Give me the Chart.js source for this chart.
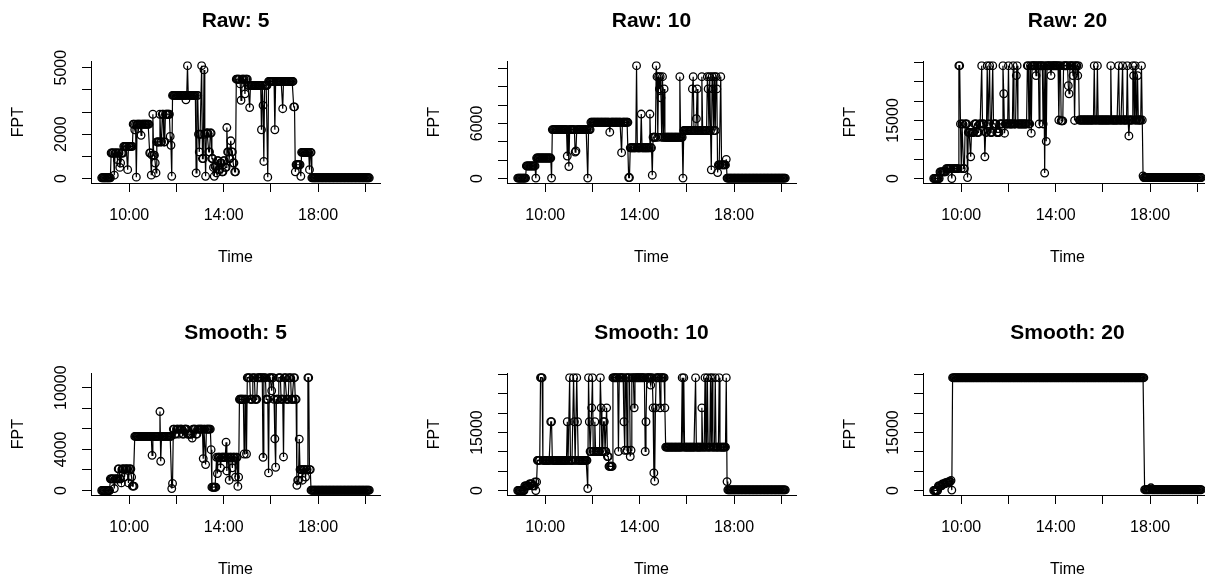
<!DOCTYPE html>
<html>
<head>
<meta charset="utf-8">
<script src="https://cdn.jsdelivr.net/npm/chart.js@4/dist/chart.umd.min.js"></script>
<style>
    html, body { margin: 0; padding: 0; background: #fff; overflow: hidden; }
    #grid { position: relative; width: 1205px; height: 575px; overflow: hidden; }
    .cell { position: absolute; width: 416px; height: 312px; }
</style>
</head>
<body>
<div id="grid"></div>
<script>
// Sampling of the FPT series (minutes between samples)
const startTime = '8:50';
const endTime = '20:10';
const sampleStep = 2;

// Time axis
const xTicks = [600, 720, 840, 960, 1080, 1200];
const xTickLabels = ['10:00', '', '14:00', '', '18:00', ''];

// FPT series as change points [time, value]; each value holds until the next change
const raw5Steps = [
    ['8:50', 30], ['9:14', 1150], ['9:22', 150], ['9:24', 1150], ['9:30', 850], ['9:32', 1150], ['9:36', 500], ['9:38', 700], ['9:40', 1150],
    ['9:46', 1450], ['9:56', 400], ['9:58', 1450],
    ['10:10', 2450], ['10:14', 2200], ['10:16', 2450], ['10:18', 60], ['10:20', 2450], ['10:30', 1950], ['10:32', 2450],
    ['10:52', 1150], ['10:56', 150], ['10:58', 1050], ['11:00', 2900], ['11:02', 1050], ['11:06', 700], ['11:08', 250], ['11:10', 1650],
    ['11:18', 2900], ['11:20', 1650], ['11:24', 2900], ['11:28', 1650], ['11:32', 2900], ['11:44', 1900], ['11:46', 1500], ['11:48', 100],
    ['11:50', 3750], ['12:24', 3550], ['12:26', 3750], ['12:28', 5090], ['12:30', 3750], ['12:50', 250], ['12:52', 3750],
    ['12:56', 2000], ['12:58', 1200], ['13:00', 2000], ['13:04', 5090], ['13:06', 900], ['13:10', 4900], ['13:12', 2000], ['13:14', 100],
    ['13:16', 2050], ['13:22', 1200], ['13:26', 2050], ['13:30', 900],
    ['13:34', 500], ['13:36', 100], ['13:38', 550], ['13:42', 250], ['13:44', 800], ['13:48', 400], ['13:52', 700], ['13:56', 300],
    ['14:00', 800], ['14:04', 500], ['14:08', 2300], ['14:10', 1200], ['14:14', 900], ['14:18', 1700], ['14:20', 1200], ['14:24', 700], ['14:28', 300],
    ['14:32', 4480], ['14:42', 4270], ['14:44', 3530], ['14:46', 4480], ['14:54', 3820], ['14:56', 4480],
    ['15:02', 4200], ['15:06', 3200], ['15:08', 4200], ['15:36', 2200], ['15:38', 4200], ['15:40', 3300], ['15:42', 770], ['15:44', 4200], ['15:52', 60],
    ['15:54', 4380], ['16:10', 2200], ['16:12', 4380], ['16:30', 3150], ['16:32', 4380], ['16:58', 3230],
    ['17:02', 300], ['17:04', 620], ['17:16', 100], ['17:18', 1180], ['17:38', 400], ['17:40', 1180], ['17:44', 30]
];

const raw10Steps = [
    ['8:50', 40], ['9:12', 1370], ['9:36', 40], ['9:38', 2230], ['10:16', 40],
    ['10:18', 5330], ['10:56', 2450], ['10:58', 5330], ['11:00', 1300], ['11:02', 5330], ['11:16', 2880], ['11:18', 3000], ['11:20', 5330], ['11:48', 40], ['11:50', 5330],
    ['11:56', 6130], ['12:44', 5050], ['12:46', 6130], ['13:14', 2810], ['13:16', 6130], ['13:32', 100],
    ['13:36', 3350], ['13:52', 12300], ['13:54', 3350], ['14:04', 7030], ['14:06', 3350], ['14:26', 7030], ['14:28', 3350], ['14:32', 360],
    ['14:34', 4500], ['14:42', 12300], ['14:44', 11100], ['14:46', 4500], ['14:48', 11100], ['14:50', 9770], ['14:52', 11100], ['14:54', 8800],
    ['14:56', 4500], ['14:58', 11100], ['15:00', 4500], ['15:02', 9770], ['15:04', 4500], ['15:42', 11100], ['15:44', 4500], ['15:50', 40],
    ['15:52', 5230], ['16:14', 9770], ['16:16', 11100], ['16:18', 5230], ['16:24', 6520], ['16:26', 9770], ['16:28', 5230], ['16:38', 11100], ['16:40', 5230],
    ['16:52', 11100], ['16:54', 9770], ['16:56', 5230], ['16:58', 11100], ['17:00', 5230], ['17:02', 940], ['17:04', 11100], ['17:06', 9770],
    ['17:08', 5230], ['17:10', 11100], ['17:12', 5230], ['17:14', 11100], ['17:16', 9770], ['17:18', 650],
    ['17:20', 1480], ['17:26', 11100], ['17:28', 1480], ['17:40', 2090], ['17:42', 40]
];

const raw20Steps = [
    ['8:50', 0], ['9:06', 1700], ['9:22', 2550], ['9:36', 0], ['9:38', 2550], ['9:54', 29150], ['9:58', 14100], ['10:00', 2550], ['10:02', 14100],
    ['10:06', 2550], ['10:10', 14100], ['10:16', 250],
    ['10:18', 11900], ['10:24', 5600], ['10:26', 11900], ['10:34', 14100], ['10:40', 11900], ['10:46', 14100], ['10:52', 29150], ['10:54', 14100],
    ['11:00', 5600], ['11:02', 11900], ['11:06', 29150], ['11:08', 14100], ['11:12', 29150], ['11:14', 11900], ['11:20', 29150], ['11:22', 14100],
    ['11:30', 11900], ['11:38', 14100], ['11:46', 29150], ['11:48', 21900], ['11:50', 11700], ['11:52', 14100], ['12:00', 29150], ['12:02', 14100],
    ['12:12', 29150], ['12:14', 14100], ['12:20', 26600], ['12:22', 29150], ['12:24', 14100],
    ['12:48', 29150], ['12:52', 14100], ['12:56', 29150], ['12:58', 11700], ['13:00', 29150], ['13:10', 26600], ['13:12', 29150], ['13:18', 14100],
    ['13:20', 29150], ['13:28', 14100], ['13:30', 29150], ['13:32', 1400], ['13:34', 29150], ['13:36', 9600], ['13:38', 29150], ['13:48', 26600],
    ['13:50', 29150], ['14:08', 15100], ['14:10', 29150], ['14:14', 14900], ['14:20', 29150], ['14:32', 24000], ['14:34', 21900], ['14:36', 29150],
    ['14:44', 26600], ['14:46', 29150], ['14:48', 15000], ['14:50', 29150], ['14:56', 26600], ['14:58', 29150],
    ['15:00', 15100], ['15:38', 29150], ['15:40', 15100], ['15:46', 29150], ['15:48', 15100], ['16:20', 29150], ['16:22', 15100], ['16:40', 29150],
    ['16:42', 15100], ['16:50', 29150], ['16:52', 15100], ['17:02', 29150], ['17:04', 15100], ['17:06', 11000], ['17:08', 15100], ['17:16', 29150],
    ['17:18', 26600], ['17:20', 15100], ['17:22', 29150], ['17:24', 15100], ['17:28', 26600], ['17:30', 15100], ['17:38', 29150], ['17:40', 15100],
    ['17:42', 680], ['17:44', 250]
];

const smooth5Steps = [
    ['8:50', 0], ['9:12', 1130], ['9:22', 190], ['9:24', 1130], ['9:32', 2100], ['9:36', 1130], ['9:40', 740], ['9:42', 2100], ['9:48', 1300],
    ['9:50', 2100], ['9:58', 740], ['10:00', 2100], ['10:06', 1300], ['10:08', 420],
    ['10:14', 5260], ['10:58', 3420], ['11:00', 5260], ['11:18', 7680], ['11:20', 2840], ['11:22', 5260], ['11:48', 190], ['11:50', 680],
    ['11:52', 5970], ['11:56', 5480], ['12:00', 5970], ['12:06', 5480], ['12:08', 5970], ['12:16', 5480], ['12:20', 5970], ['12:28', 5480],
    ['12:40', 5100], ['12:42', 5970], ['12:50', 5480], ['12:54', 5970], ['13:08', 3100], ['13:10', 5970], ['13:14', 2520], ['13:16', 5970], ['13:28', 3970],
    ['13:30', 320], ['13:42', 3230], ['13:44', 1650], ['13:46', 3230], ['13:52', 2200], ['13:54', 3230], ['14:06', 4700], ['14:08', 1900], ['14:10', 3230],
    ['14:14', 1000], ['14:16', 3230], ['14:22', 2200], ['14:24', 3230], ['14:30', 1300], ['14:32', 3230], ['14:36', 400], ['14:38', 1300],
    ['14:40', 8870], ['14:52', 3550], ['14:54', 8870], ['14:58', 3550], ['15:00', 10970], ['15:08', 8870], ['15:14', 10970], ['15:20', 8870],
    ['15:26', 10970], ['15:40', 3230], ['15:42', 10970], ['15:48', 8870], ['15:54', 1710], ['15:56', 10970], ['16:02', 9700], ['16:04', 10970],
    ['16:08', 8870], ['16:10', 5030], ['16:12', 2260], ['16:14', 8870], ['16:20', 10970], ['16:26', 8870], ['16:32', 3260], ['16:34', 10970],
    ['16:40', 8870], ['16:46', 10970], ['16:52', 8870], ['16:58', 10970], ['17:02', 8870],
    ['17:06', 500], ['17:08', 1000], ['17:12', 5000], ['17:14', 2030], ['17:20', 1000], ['17:22', 2030], ['17:28', 1300], ['17:30', 2030],
    ['17:34', 10970], ['17:38', 2030], ['17:42', 30]
];

const smooth10Steps = [
    ['8:50', 0], ['9:08', 1200], ['9:20', 1700], ['9:28', 1200], ['9:34', 2230], ['9:36', 0], ['9:38', 2230],
    ['9:40', 7800], ['9:48', 29200], ['9:54', 7800], ['10:14', 17800], ['10:18', 7800], ['10:56', 17800], ['10:58', 7800], ['11:02', 29200],
    ['11:04', 7800], ['11:12', 29200], ['11:14', 17800], ['11:16', 7800], ['11:20', 29200], ['11:22', 17800], ['11:24', 7800], ['11:48', 500],
    ['11:50', 29200], ['11:52', 17800], ['11:54', 10100], ['11:58', 21400], ['12:00', 29200], ['12:02', 10100], ['12:06', 17800], ['12:08', 10100],
    ['12:20', 29200], ['12:22', 21400], ['12:24', 10100], ['12:28', 17800], ['12:32', 10100], ['12:36', 21400], ['12:38', 8800], ['12:42', 6260],
    ['12:52', 29200], ['13:06', 10100], ['13:08', 29200], ['13:20', 17800], ['13:22', 10400], ['13:24', 29200], ['13:28', 10400], ['13:30', 29200],
    ['13:36', 8800], ['13:38', 10400], ['13:40', 29200], ['13:46', 21400], ['13:48', 29200], ['14:14', 10100], ['14:16', 17800], ['14:18', 29200],
    ['14:28', 27300], ['14:30', 29200], ['14:34', 21400], ['14:36', 4540], ['14:38', 2400], ['14:40', 21400], ['14:42', 29200], ['14:52', 21400],
    ['14:54', 29200], ['15:04', 21400],
    ['15:06', 11230], ['15:48', 29200], ['15:50', 11230], ['15:52', 29200], ['15:54', 11230], ['16:22', 29200], ['16:24', 11230], ['16:38', 21400],
    ['16:40', 11230], ['16:46', 29200], ['16:48', 11230], ['16:52', 29200], ['16:54', 11230], ['17:00', 29200], ['17:02', 11230], ['17:04', 29200],
    ['17:06', 11230], ['17:12', 29200], ['17:14', 11230], ['17:22', 29200], ['17:24', 11230], ['17:40', 29200], ['17:42', 2300], ['17:44', 170]
];

const smooth20Steps = [
    ['8:50', 0], ['9:02', 1200], ['9:12', 1700], ['9:20', 2000], ['9:28', 2300], ['9:34', 2600], ['9:36', 100],
    ['9:38', 29200], ['17:46', 200], ['18:02', 690], ['18:04', 200]
];

// FPT axis ticks and the labels that get printed
const yTicks5k = [0, 1000, 2000, 3000, 4000, 5000];
const yLabels5k = ['0', '', '2000', '', '', '5000'];
const yTicks12k = [0, 2000, 4000, 6000, 8000, 10000, 12000];
const yLabels12k = ['0', '', '', '6000', '', '', ''];
const yTicks10k = [0, 2000, 4000, 6000, 8000, 10000];
const yLabels10k = ['0', '', '4000', '', '', '10000'];
const yTicks30k = [0, 5000, 10000, 15000, 20000, 25000, 30000];
const yLabels30k = ['0', '', '', '15000', '', '', ''];

const panels = [
    { title: 'Raw: 5', steps: raw5Steps, yTicks: yTicks5k, yLabels: yLabels5k },
    { title: 'Raw: 10', steps: raw10Steps, yTicks: yTicks12k, yLabels: yLabels12k },
    { title: 'Raw: 20', steps: raw20Steps, yTicks: yTicks30k, yLabels: yLabels30k },
    { title: 'Smooth: 5', steps: smooth5Steps, yTicks: yTicks10k, yLabels: yLabels10k },
    { title: 'Smooth: 10', steps: smooth10Steps, yTicks: yTicks30k, yLabels: yLabels30k },
    { title: 'Smooth: 20', steps: smooth20Steps, yTicks: yTicks30k, yLabels: yLabels30k }
];

const FONT = '"Liberation Sans", Arial, Helvetica, sans-serif';
Chart.defaults.font.family = FONT;
Chart.defaults.color = '#000';

function toMinutes(hhmm) {
    const [h, m] = hhmm.split(':').map(Number);
    return h * 60 + m;
}

// Decode change points into the sampled series
function expandSteps(steps) {
    const pts = [];
    let k = 0;
    for (let t = toMinutes(startTime); t <= toMinutes(endTime); t += sampleStep) {
        while (k + 1 < steps.length && toMinutes(steps[k + 1][0]) <= t) k++;
        pts.push({ x: t, y: steps[k][1] });
    }
    return pts;
}

const measureCtx = document.createElement('canvas').getContext('2d');
measureCtx.font = '16px ' + FONT;

function buildPanel(p, idx) {
    const cell = document.createElement('div');
    cell.className = 'cell';
    cell.style.left = (idx % 3) * 416 + 'px';
    cell.style.top = Math.floor(idx / 3) * 312 + 'px';
    const canvas = document.createElement('canvas');
    canvas.width = 416;
    canvas.height = 312;
    cell.appendChild(canvas);
    document.getElementById('grid').appendChild(cell);

    // axis limits padded by 4% like the usual plotting default
    const t0 = toMinutes(startTime), t1 = toMinutes(endTime);
    const xPad = (t1 - t0) * 0.04;
    const yMax = Math.max(...p.steps.map(s => s[1]));
    const widest = Math.max(...p.yLabels.map(s => measureCtx.measureText(s).width));

    return new Chart(canvas, {
        type: 'line',
        data: {
            datasets: [{
                data: expandSteps(p.steps),
                borderColor: '#000',
                borderWidth: 1.2,
                pointRadius: 3.8,
                pointHoverRadius: 3.8,
                pointBorderWidth: 1.3,
                pointBorderColor: '#000',
                pointBackgroundColor: 'rgba(0,0,0,0)',
                tension: 0
            }]
        },
        options: {
            responsive: false,
            animation: false,
            devicePixelRatio: 1,
            events: [],
            layout: { padding: { left: 0, right: 36, top: 0, bottom: 0 } },
            plugins: {
                legend: { display: false },
                tooltip: { enabled: false },
                title: {
                    display: true,
                    text: p.title,
                    fullSize: false,
                    color: '#000',
                    font: { size: 21, weight: 'bold' },
                    padding: { top: 9, bottom: 27 }
                }
            },
            scales: {
                x: {
                    type: 'linear',
                    min: t0 - xPad,
                    max: t1 + xPad,
                    afterBuildTicks: s => { s.ticks = xTicks.map(v => ({ value: v })); },
                    afterFit: s => { s.height = 129; },
                    ticks: {
                        autoSkip: false,
                        maxRotation: 0,
                        padding: 14,
                        color: '#000',
                        font: { size: 16 },
                        callback: (v, i) => xTickLabels[i]
                    },
                    grid: { drawOnChartArea: false, tickLength: 9, color: '#000' },
                    border: { color: '#000', width: 1 },
                    title: { display: true, text: 'Time', color: '#000', font: { size: 16 }, padding: { top: 0, bottom: 45 } }
                },
                y: {
                    type: 'linear',
                    min: -0.04 * yMax,
                    max: 1.04 * yMax,
                    afterBuildTicks: s => { s.ticks = p.yTicks.map(v => ({ value: v })); },
                    afterFit: s => { s.width = 91; },
                    ticks: {
                        autoSkip: false,
                        minRotation: 90,
                        maxRotation: 90,
                        crossAlign: 'center',
                        padding: 20 - widest / 2,
                        color: '#000',
                        font: { size: 16 },
                        callback: (v, i) => p.yLabels[i]
                    },
                    grid: { drawOnChartArea: false, tickLength: 9, color: '#000' },
                    border: { color: '#000', width: 1 },
                    title: { display: true, text: 'FPT', color: '#000', font: { size: 16 }, padding: { top: 9, bottom: 0 } }
                }
            }
        }
    });
}

panels.forEach(buildPanel);
</script>
</body>
</html>
